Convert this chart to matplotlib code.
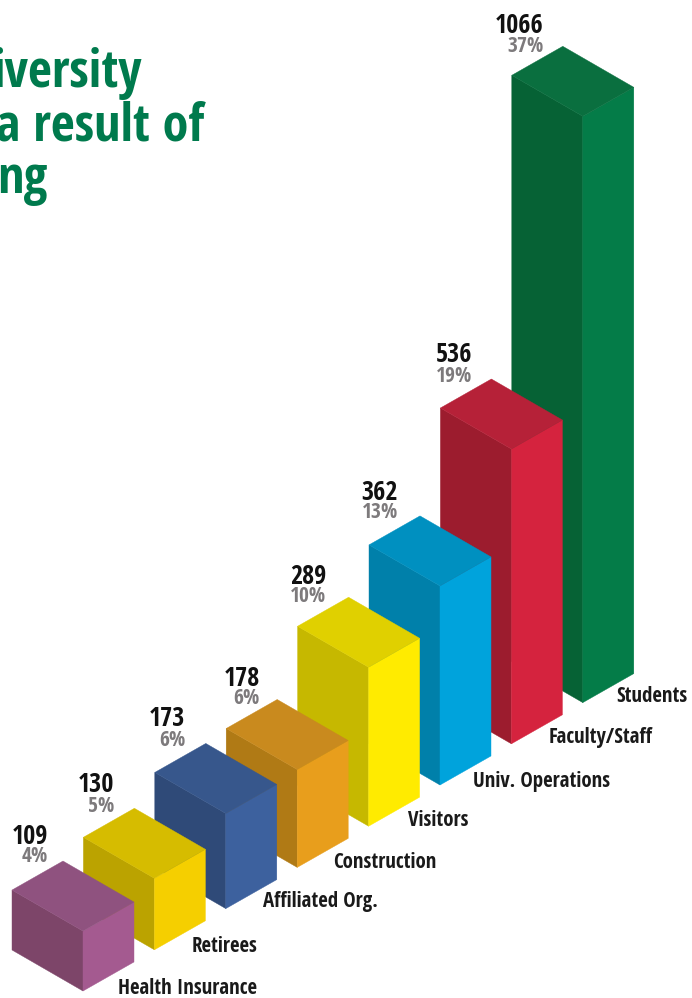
#!/usr/bin/env python3
"""Isometric bar chart of reported cases by group, front bar to back bar."""

import matplotlib.pyplot as plt
from matplotlib.patches import Polygon

categories = ["Health Insurance", "Retirees", "Affiliated Org.", "Construction",
              "Visitors", "Univ. Operations", "Faculty/Staff", "Students"]
counts = [109, 130, 173, 178, 289, 362, 536, 1066]
percents = ["4%", "5%", "6%", "6%", "10%", "13%", "19%", "37%"]
title_lines = ["iversity", "a result of", "ng"]

# top, left and right face colours for each bar
top_colors = ["#8F527F", "#D6BC00", "#37578C", "#C98A1E", "#E0D000", "#0090C0", "#B62138", "#0A6F3F"]
left_colors = ["#7D4569", "#BBA300", "#2F4A78", "#B07A15", "#C6B800", "#0080AA", "#9C1C2E", "#066235"]
right_colors = ["#A45A90", "#F5CF00", "#3D619E", "#E89E1C", "#FFEB00", "#00A3DC", "#D5233E", "#047C48"]

# layout in pixels
FRONT_X, FRONT_Y = 83, 991
STEP_X, STEP_Y = 71.4, -41.2
LEFT_DX, LEFT_DY = -71, -41
RIGHT_DX, RIGHT_DY = 51, -29
PX_PER_COUNT = 0.55

count_right = [48, 114, 185, 260, 326, 398, 472, 544]
count_y = [836, 785, 718, 679, 576, 492, 355, 25]
percent_y = [857, 807, 740, 699, 597, 513, 376, 46]
name_left = [118, 192, 263, 333, 408, 473, 549, 616]
name_y = [988, 947, 902, 862, 821, 782, 738, 697]
title_right = [142, 204, 47]
title_base = [87, 140, 193]

FONT = ["Open Sans Condensed", "Roboto Condensed", "DejaVu Sans"]


def draw_bar(ax, i):
    # front bottom corner moves up the staircase with the bar index
    x = FRONT_X + i * STEP_X
    y = FRONT_Y + i * STEP_Y
    h = counts[i] * PX_PER_COUNT
    top = y - h
    left = [(x, y), (x + LEFT_DX, y + LEFT_DY), (x + LEFT_DX, top + LEFT_DY), (x, top)]
    right = [(x, y), (x + RIGHT_DX, y + RIGHT_DY), (x + RIGHT_DX, top + RIGHT_DY), (x, top)]
    roof = [(x, top), (x + LEFT_DX, top + LEFT_DY),
            (x + LEFT_DX + RIGHT_DX, top + LEFT_DY + RIGHT_DY), (x + RIGHT_DX, top + RIGHT_DY)]
    for pts, color in ((left, left_colors[i]), (right, right_colors[i]), (roof, top_colors[i])):
        ax.add_patch(Polygon(pts, closed=True, facecolor=color, edgecolor=color, lw=0.3))


def main():
    fig = plt.figure(figsize=(6.92, 9.98), dpi=100)
    ax = fig.add_axes([0, 0, 1, 1])
    ax.set_xlim(0, 692)
    ax.set_ylim(998, 0)
    ax.axis("off")

    # back bars first so the nearer ones cover them
    for i in reversed(range(len(counts))):
        draw_bar(ax, i)

    for i, name in enumerate(categories):
        ax.text(count_right[i], count_y[i], str(counts[i]), ha="right", va="center",
                fontsize=18.8, fontweight="bold", color="#111111", family=FONT)
        ax.text(count_right[i], percent_y[i], percents[i], ha="right", va="center",
                fontsize=15.5, fontweight="bold", color="#7d7a7c", family=FONT)
        ax.text(name_left[i], name_y[i], name, ha="left", va="center",
                fontsize=15, fontweight="bold", color="#1a1a1a", family=FONT)

    for line, x, y in zip(title_lines, title_right, title_base):
        ax.text(x, y, line, ha="right", va="baseline", fontsize=37.5,
                fontweight="bold", color="#007A4D", family=FONT)

    fig.savefig("out.png", dpi=100)


if __name__ == "__main__":
    main()
